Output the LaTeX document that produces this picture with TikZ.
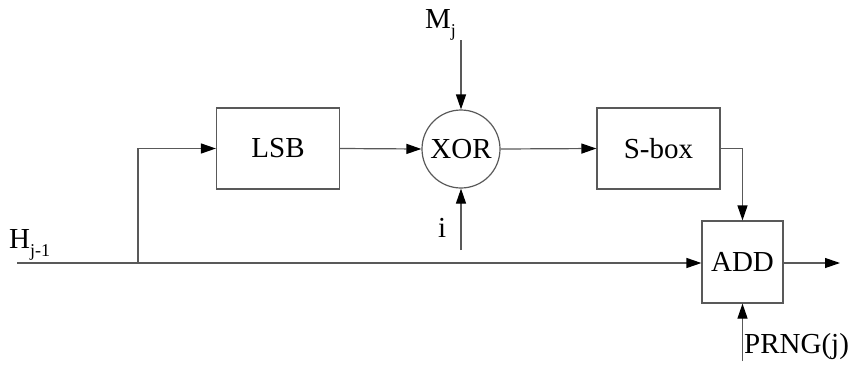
\documentclass[tikz,border=0pt]{standalone}
\usepackage{fontspec}
\setmainfont{Liberation Serif}
\usetikzlibrary{arrows.meta}
\newcommand{\lowsub}[1]{\raisebox{-8pt}{\fontsize{18}{20}\selectfont #1}}
\begin{document}
\begin{tikzpicture}[x=1pt,y=-1pt,
  line/.style={draw=black!65,line width=1.2pt},
  arr/.style={line,-{Triangle[length=15pt,width=10pt,color=black]}},
  blk/.style={draw=black!65,line width=1.2pt,minimum width=123pt,minimum height=81pt,inner sep=0pt,font=\fontsize{29}{32}\selectfont},
  lbl/.style={inner sep=0pt,font=\fontsize{29}{32}\selectfont}]
\useasboundingbox (0,0) rectangle (849,365);
\node[blk] (lsb) at (278,148.5) {LSB};
\node[blk] (sbox) at (658.5,148.5) {S-box};
\node[blk,circle,minimum size=78pt] (xor) at (461,149) {XOR};
\node[blk,minimum width=81pt,minimum height=82pt] (add) at (742.5,262) {ADD};
\node[lbl,anchor=base west] (h) at (9,248) {H\lowsub{j-1}};
\node[lbl,anchor=base west] (m) at (425,28) {M\lowsub{j}};
\node[lbl,anchor=base west] (i) at (438,237) {i};
\node[lbl,anchor=base west] (prng) at (744,353) {PRNG(j)};
\coordinate (hs) at (17,263);
\coordinate (br) at (138,263);
\coordinate (ms) at (461,40);
\coordinate (is) at (461,250);
\coordinate (ps) at (742.5,361);
\coordinate (out) at (840,263);
\draw[arr] (hs) -- (add.west|-hs);
\draw[arr] (br) |- (lsb.west);
\draw[arr] (lsb.east) -- (xor.west);
\draw[arr] (xor.east) -- (sbox.west);
\draw[arr] (ms) -- (xor.north);
\draw[arr] (is) -- (xor.south);
\draw[arr] (sbox.east) -| (add.north);
\draw[arr] (ps) -- (add.south);
\draw[arr] (add.east|-out) -- (out);
\end{tikzpicture}
\end{document}
